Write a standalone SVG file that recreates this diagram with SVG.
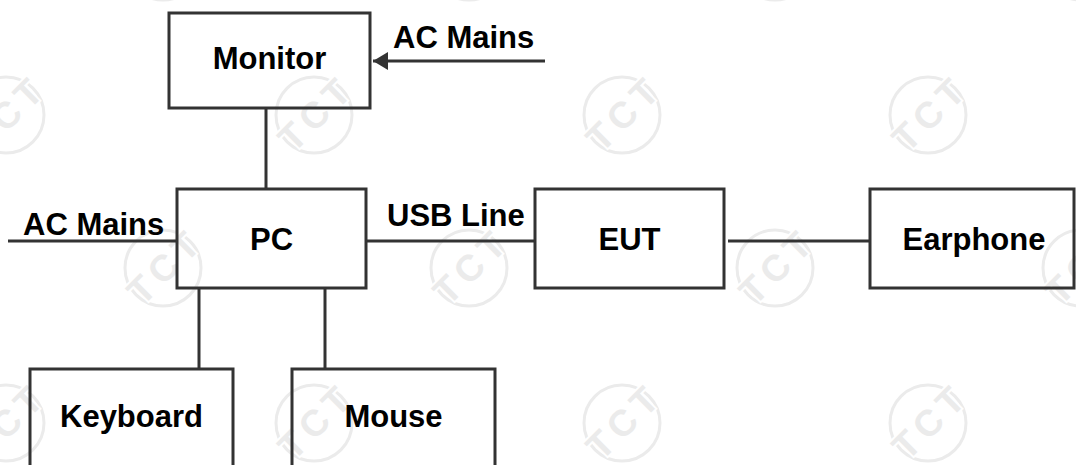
<svg xmlns="http://www.w3.org/2000/svg" width="1076" height="465" viewBox="0 0 1076 465">
<style>
.box{fill:none;stroke:#333;stroke-width:3}
.ln{fill:none;stroke:#333;stroke-width:3}
.lbl{font-family:"Liberation Sans",Arial,sans-serif;font-weight:bold;font-size:31px;fill:#000}
.wmc{fill:none;stroke:#ebebeb;stroke-width:3}
.wmt{font-family:"Liberation Sans",Arial,sans-serif;font-weight:bold;font-size:37px;fill:#ebebeb;stroke:#fff;stroke-width:4;paint-order:stroke;letter-spacing:6px}
</style>
<defs>
<marker id="arr" markerWidth="6" markerHeight="6" refX="5" refY="3" orient="auto" markerUnits="strokeWidth">
<path d="M0,0 L5,3 L0,6 Z" fill="#333"/>
</marker>
<g id="wmk">
<circle class="wmc" cx="0" cy="0" r="38"/>
<text class="wmt" transform="rotate(-45)" x="3" y="13" text-anchor="middle">TCT</text>
</g>
</defs>
<g id="watermarks">
<use href="#wmk" x="163" y="-38"/><use href="#wmk" x="469" y="-38"/><use href="#wmk" x="775" y="-38"/><use href="#wmk" x="1081" y="-38"/>
<use href="#wmk" x="6" y="115"/><use href="#wmk" x="314" y="115"/><use href="#wmk" x="622" y="115"/><use href="#wmk" x="928" y="115"/>
<use href="#wmk" x="163" y="268"/><use href="#wmk" x="469" y="268"/><use href="#wmk" x="775" y="268"/><use href="#wmk" x="1081" y="268"/>
<use href="#wmk" x="6" y="423"/><use href="#wmk" x="314" y="423"/><use href="#wmk" x="622" y="423"/><use href="#wmk" x="928" y="423"/>
</g>
<g id="connectors">
<line class="ln" x1="545" y1="61" x2="373" y2="61" marker-end="url(#arr)"/>
<line class="ln" x1="266" y1="108" x2="266" y2="189"/>
<line class="ln" x1="8" y1="241" x2="177" y2="241"/>
<line class="ln" x1="366" y1="241" x2="535" y2="241"/>
<line class="ln" x1="728" y1="241" x2="870" y2="241"/>
<line class="ln" x1="199" y1="288" x2="199" y2="369"/>
<line class="ln" x1="325" y1="288" x2="325" y2="369"/>
<text class="lbl" x="393" y="48">AC Mains</text>
<text class="lbl" x="23" y="235">AC Mains</text>
<text class="lbl" x="387" y="226">USB Line</text>
</g>
<g id="monitor"><rect class="box" x="169" y="13" width="201" height="95"/><text class="lbl" x="269.5" y="69" text-anchor="middle">Monitor</text></g>
<g id="pc"><rect class="box" x="177" y="189" width="189" height="99"/><text class="lbl" x="271.5" y="250" text-anchor="middle">PC</text></g>
<g id="eut"><rect class="box" x="535" y="189" width="189" height="99"/><text class="lbl" x="629.5" y="250" text-anchor="middle">EUT</text></g>
<g id="earphone"><rect class="box" x="870" y="189" width="204" height="99"/><text class="lbl" x="974" y="250" text-anchor="middle">Earphone</text></g>
<g id="keyboard"><rect class="box" x="30" y="369" width="203" height="110"/><text class="lbl" x="131.5" y="427" text-anchor="middle">Keyboard</text></g>
<g id="mouse"><rect class="box" x="292" y="369" width="203" height="110"/><text class="lbl" x="393.5" y="427" text-anchor="middle">Mouse</text></g>
</svg>
